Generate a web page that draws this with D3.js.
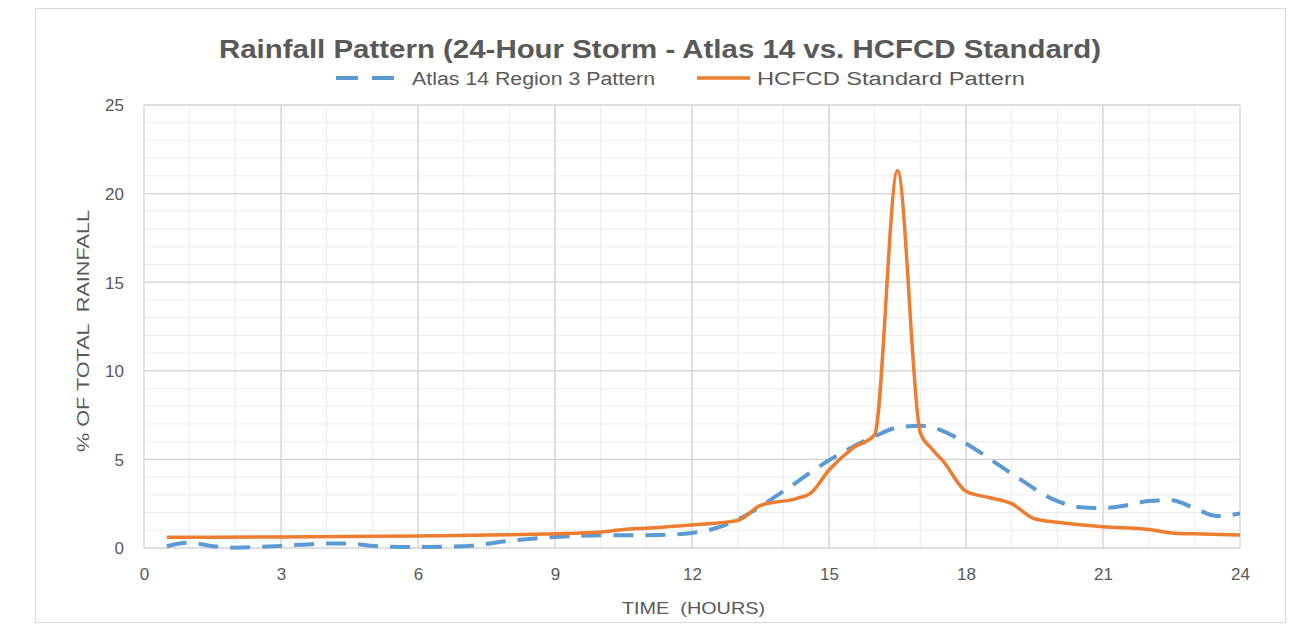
<!DOCTYPE html>
<html>
<head>
<meta charset="utf-8">
<script src="https://cdn.jsdelivr.net/npm/d3@7"></script>
<style>
  body { margin: 0; background: #fff; }
  svg { font-family: "Liberation Sans", Arial, sans-serif; }
</style>
</head>
<body>
<div class="Canvas"></div>
<script>
const atlasHours = [0.5, 1, 1.5, 2, 3, 4, 4.5, 5, 6, 7, 8, 9, 10, 11, 12, 12.5, 13, 14, 15, 16, 16.5, 17, 17.5, 18, 19, 20, 20.5, 21, 21.5, 22, 22.5, 23, 23.5, 24];
const atlasValues = [0.1, 0.3, 0.1, 0.02, 0.12, 0.25, 0.25, 0.12, 0.05, 0.1, 0.4, 0.62, 0.72, 0.72, 0.85, 1.1, 1.6, 3.2, 4.95, 6.3, 6.8, 6.9, 6.6, 5.9, 4.2, 2.65, 2.3, 2.25, 2.4, 2.65, 2.7, 2.25, 1.8, 1.95];

const hcfcdHours = [0.5, 3, 6, 8, 9, 10, 10.5, 11, 12, 13, 13.5, 14.3, 14.6, 15, 15.5, 16, 16.5, 17, 17.25, 17.5, 18, 18.5, 19, 19.5, 20, 21, 22, 22.5, 23, 24];
const hcfcdValues = [0.6, 0.62, 0.68, 0.75, 0.8, 0.9, 1.05, 1.12, 1.3, 1.55, 2.4, 2.8, 3.1, 4.4, 5.6, 6.4, 21.3, 6.5, 5.6, 4.9, 3.2, 2.85, 2.5, 1.65, 1.45, 1.2, 1.05, 0.85, 0.8, 0.73];

const xTicks = [0, 3, 6, 9, 12, 15, 18, 21, 24];
const yTicks = [0, 5, 10, 15, 20, 25];

const seriesNames = ['Atlas 14 Region 3 Pattern', 'HCFCD Standard Pattern'];
const titleText = 'Rainfall Pattern (24-Hour Storm - Atlas 14 vs. HCFCD Standard)';

const width = 1303;
const height = 624;
const plotLeft = 144, plotRight = 1240, plotTop = 105, plotBottom = 548;
const textColor = '#595959';
const blue = '#5B9BD5';
const orange = '#ED7D31';

const svg = d3.select('.Canvas').append('svg').attr('width', width).attr('height', height);

svg.append('rect')
  .attr('x', 35.5).attr('y', 8.5)
  .attr('width', 1250).attr('height', 614)
  .attr('fill', '#fff')
  .attr('stroke', '#d9d9d9');

const x = d3.scaleLinear().domain([0, 24]).range([plotLeft, plotRight]);
const y = d3.scaleLinear().domain([0, 25]).range([plotBottom, plotTop]);

// minor grid
const g = svg.append('g');
g.selectAll('line.vminor')
  .data(d3.range(1, 24))
  .enter()
  .append('line')
  .attr('x1', (d) => x(d)).attr('x2', (d) => x(d))
  .attr('y1', plotTop).attr('y2', plotBottom)
  .attr('stroke', '#ececec').attr('stroke-width', 1);
g.selectAll('line.hminor')
  .data(d3.range(1, 25))
  .enter()
  .append('line')
  .attr('x1', plotLeft).attr('x2', plotRight)
  .attr('y1', (d) => y(d)).attr('y2', (d) => y(d))
  .attr('stroke', '#ececec').attr('stroke-width', 1);

// major grid
g.selectAll('line.vmajor')
  .data(xTicks)
  .enter()
  .append('line')
  .attr('x1', (d) => x(d)).attr('x2', (d) => x(d))
  .attr('y1', plotTop).attr('y2', plotBottom)
  .attr('stroke', '#d4d4d4').attr('stroke-width', 1.3);
g.selectAll('line.hmajor')
  .data(yTicks)
  .enter()
  .append('line')
  .attr('x1', plotLeft).attr('x2', plotRight)
  .attr('y1', (d) => y(d)).attr('y2', (d) => y(d))
  .attr('stroke', '#d4d4d4').attr('stroke-width', 1.3);

// axes (labels only)
const xAxis = svg.append('g')
  .attr('transform', `translate(0,${plotBottom})`)
  .call(d3.axisBottom(x).tickValues(xTicks).tickSize(0).tickPadding(20));
const yAxis = svg.append('g')
  .attr('transform', `translate(${plotLeft},0)`)
  .call(d3.axisLeft(y).tickValues(yTicks).tickSize(0).tickPadding(20));
[xAxis, yAxis].forEach((a) => {
  a.select('.domain').remove();
  a.selectAll('text')
    .attr('font-size', '17px')
    .attr('fill', textColor)
    .attr('font-family', '"Liberation Sans", Arial, sans-serif');
});
yAxis.selectAll('text').attr('dy', '0.35em');

// lines
const line = d3.line()
  .x((d) => x(d[0]))
  .y((d) => y(d[1]))
  .curve(d3.curveMonotoneX);

svg.append('path')
  .datum(atlasHours.map((h, i) => [h, atlasValues[i]]))
  .attr('d', line)
  .attr('fill', 'none')
  .attr('stroke', blue)
  .attr('stroke-width', 4)
  .attr('stroke-dasharray', '20,12');

svg.append('path')
  .datum(hcfcdHours.map((h, i) => [h, hcfcdValues[i]]))
  .attr('d', line)
  .attr('fill', 'none')
  .attr('stroke', orange)
  .attr('stroke-width', 3.5)
  .attr('stroke-linejoin', 'round');

// title
svg.append('text')
  .attr('x', 219).attr('y', 58)
  .attr('font-size', '25px')
  .attr('font-weight', 'bold')
  .attr('fill', textColor)
  .attr('textLength', 882)
  .attr('lengthAdjust', 'spacingAndGlyphs')
  .text(titleText);

// legend
svg.append('line')
  .attr('x1', 336).attr('x2', 396)
  .attr('y1', 78).attr('y2', 78)
  .attr('stroke', blue).attr('stroke-width', 4)
  .attr('stroke-dasharray', '22,14');
svg.append('text')
  .attr('x', 412).attr('y', 85)
  .attr('font-size', '18px')
  .attr('fill', textColor)
  .attr('textLength', 243)
  .attr('lengthAdjust', 'spacingAndGlyphs')
  .text(seriesNames[0]);
svg.append('line')
  .attr('x1', 697).attr('x2', 750)
  .attr('y1', 78).attr('y2', 78)
  .attr('stroke', orange).attr('stroke-width', 3.5);
svg.append('text')
  .attr('x', 757).attr('y', 85)
  .attr('font-size', '18px')
  .attr('fill', textColor)
  .attr('textLength', 268)
  .attr('lengthAdjust', 'spacingAndGlyphs')
  .text(seriesNames[1]);

// axis titles
svg.append('text')
  .attr('x', 622).attr('y', 614)
  .attr('font-size', '17px')
  .attr('fill', textColor)
  .attr('textLength', 143)
  .attr('lengthAdjust', 'spacingAndGlyphs')
  .style('white-space', 'pre')
  .text('TIME  (HOURS)');
svg.append('text')
  .attr('transform', 'translate(89,452) rotate(-90)')
  .attr('font-size', '17px')
  .attr('fill', textColor)
  .attr('textLength', 242)
  .attr('lengthAdjust', 'spacingAndGlyphs')
  .style('white-space', 'pre')
  .text('% OF TOTAL  RAINFALL');
</script>
</body>
</html>
